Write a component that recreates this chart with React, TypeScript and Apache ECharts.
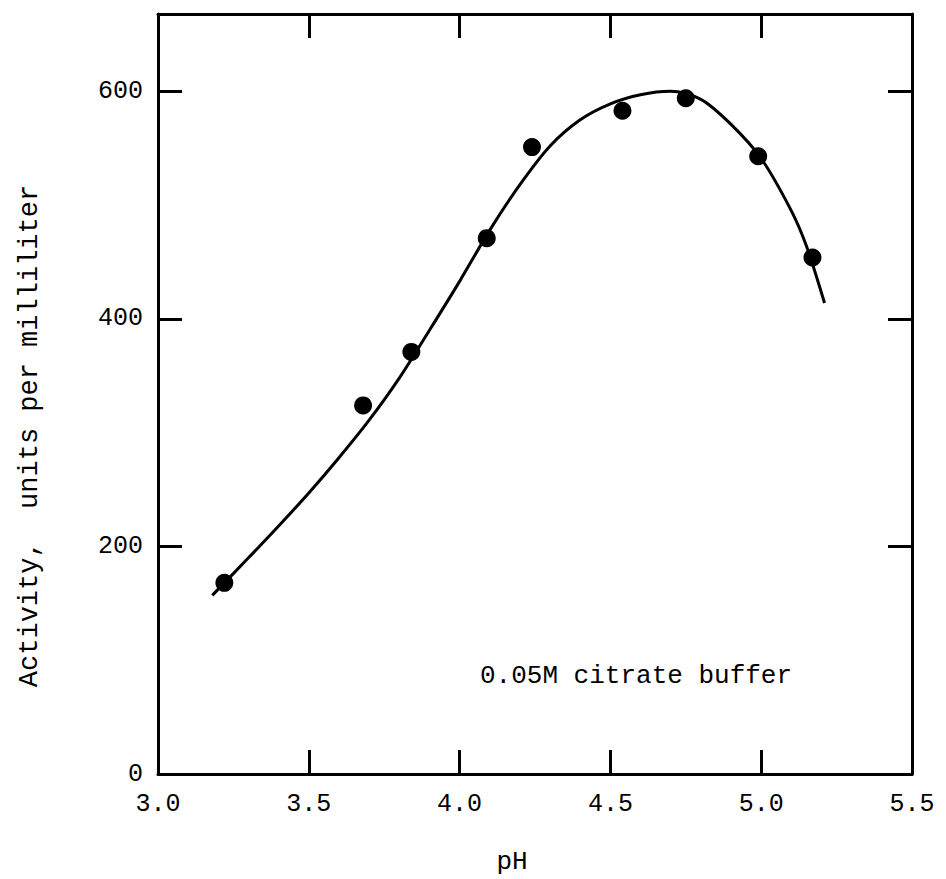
import React, { useEffect, useRef } from "react";
import * as echarts from "echarts";

const phTicks = [3.0, 3.5, 4.0, 4.5, 5.0, 5.5];
const activityTicks = [0, 200, 400, 600];
const activityInnerTicks = [200, 400, 600];

const measuredPH = [3.22, 3.68, 3.84, 4.09, 4.24, 4.54, 4.75, 4.99, 5.17];
const measuredActivity = [168, 324, 371, 471, 551, 583, 594, 543, 454];

const curvePH = [3.18, 3.3, 3.4, 3.5, 3.6, 3.7, 3.8, 3.9, 4.0, 4.1, 4.2, 4.3, 4.4, 4.5, 4.6, 4.7, 4.8, 4.9, 5.0, 5.1, 5.15, 5.21];
const curveActivity = [157, 190, 218, 247, 278, 311, 348, 390, 433, 478, 518, 552, 575, 589, 597, 600, 593, 571, 541, 495, 464, 414];

const bufferLabel = "0.05M citrate buffer";
const xTitle = "pH";
const yTitle = "Activity,  units per milliliter";

const FONT = "'Liberation Mono', 'DejaVu Sans Mono', monospace";

export default function App() {
  const ref = useRef<HTMLDivElement>(null);
  useEffect(() => {
    if (!ref.current) return;
    const chart = echarts.init(ref.current, undefined, { renderer: "svg" });
    const axisLine = { show: true, onZero: false, lineStyle: { color: "#000", width: 3 } };
    const tick = { show: true, inside: true, length: 24, lineStyle: { color: "#000", width: 3 } };
    chart.setOption({
      animation: false,
      backgroundColor: "#fff",
      grid: { left: 158, top: 14, width: 754, height: 760, containLabel: false },
      xAxis: [
        {
          type: "value",
          min: phTicks[0],
          max: phTicks[phTicks.length - 1],
          interval: 0.5,
          position: "bottom",
          axisLine,
          axisTick: { ...tick, customValues: phTicks.slice(1, -1) },
          splitLine: { show: false },
          axisLabel: {
            customValues: phTicks,
            formatter: (v: number) => v.toFixed(1),
            fontFamily: FONT,
            fontSize: 25,
            color: "#000",
            margin: 18,
          },
        },
        {
          type: "value",
          min: phTicks[0],
          max: phTicks[phTicks.length - 1],
          interval: 0.5,
          position: "top",
          axisLine,
          axisTick: { ...tick, customValues: phTicks.slice(1, -1) },
          splitLine: { show: false },
          axisLabel: { show: false },
        },
      ],
      yAxis: [
        {
          type: "value",
          min: 0,
          max: 668,
          interval: 200,
          position: "left",
          axisLine,
          axisTick: { ...tick, customValues: activityInnerTicks },
          splitLine: { show: false },
          axisLabel: {
            customValues: activityTicks,
            fontFamily: FONT,
            fontSize: 25,
            color: "#000",
            margin: 15,
          },
        },
        {
          type: "value",
          min: 0,
          max: 668,
          interval: 200,
          position: "right",
          axisLine,
          axisTick: { ...tick, customValues: activityInnerTicks },
          splitLine: { show: false },
          axisLabel: { show: false },
        },
      ],
      series: [
        {
          type: "line",
          data: curvePH.map((p, i) => [p, curveActivity[i]]),
          smooth: 0.3,
          showSymbol: false,
          lineStyle: { color: "#000", width: 3 },
          xAxisIndex: 0,
          yAxisIndex: 0,
        },
        {
          type: "scatter",
          data: measuredPH.map((p, i) => [p, measuredActivity[i]]),
          symbol: "circle",
          symbolSize: 18,
          itemStyle: { color: "#000", opacity: 1 },
          xAxisIndex: 0,
          yAxisIndex: 0,
        },
      ],
      graphic: [
        {
          type: "text",
          x: 480,
          y: 676,
          style: { text: bufferLabel, font: `26px ${FONT}`, fill: "#000", textVerticalAlign: "middle", textAlign: "left" },
        },
        {
          type: "text",
          x: 512,
          y: 862,
          style: { text: xTitle, font: `26px ${FONT}`, fill: "#000", textAlign: "center", textVerticalAlign: "middle" },
        },
        {
          type: "text",
          x: 30,
          y: 436,
          rotation: Math.PI / 2,
          style: { text: yTitle, font: `27px ${FONT}`, fill: "#000", textAlign: "center", textVerticalAlign: "middle" },
        },
      ],
    });
    return () => chart.dispose();
  }, []);
  return <div ref={ref} style={{ position: "fixed", left: 0, top: 0, width: 946, height: 879 }} />;
}
